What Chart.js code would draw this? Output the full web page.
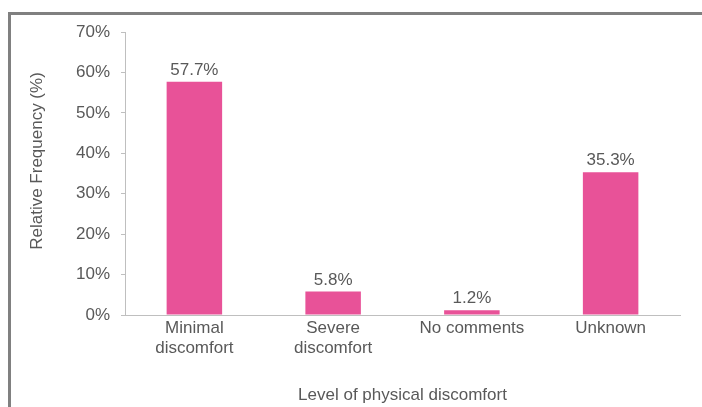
<!DOCTYPE html>
<html>
<head>
<meta charset="utf-8">
<script src="https://cdn.jsdelivr.net/npm/chart.js@4/dist/chart.umd.min.js"></script>
<style>
  html, body { margin: 0; padding: 0; background: #fff; }
  #frame {
    position: absolute; left: 8px; top: 12px; right: 0; bottom: 0;
    border-left: 3px solid #808080; border-top: 3px solid #808080;
  }
  #wrap { position: absolute; left: 0; top: 0; width: 702px; height: 407px; }
</style>
</head>
<body>
<div id="frame"></div>
<div id="wrap"><canvas id="discomfortChart"></canvas></div>
<script>
const categories = [['Minimal', 'discomfort'], ['Severe', 'discomfort'], 'No comments', 'Unknown'];
const frequencies = [57.7, 5.8, 1.2, 35.3];
const yTicks = [0, 10, 20, 30, 40, 50, 60, 70];

const textColor = '#595959';
const axisColor = '#bfbfbf';
const font = { family: "'Liberation Sans', Arial, sans-serif", size: 17, lineHeight: 1.18 };

// value labels above each bar plus the rotated y title
const barLabels = {
  id: 'barLabels',
  afterDatasetsDraw(chart) {
    const ctx = chart.ctx;
    const meta = chart.getDatasetMeta(0);
    ctx.save();
    ctx.fillStyle = textColor;
    ctx.font = `${font.size}px ${font.family}`;
    ctx.textAlign = 'center';
    ctx.textBaseline = 'alphabetic';
    meta.data.forEach((bar, i) => {
      ctx.fillText(frequencies[i].toFixed(1) + '%', bar.x, bar.y - 7);
    });
    ctx.translate(37, 161);
    ctx.rotate(-Math.PI / 2);
    ctx.textBaseline = 'middle';
    ctx.fillText('Relative Frequency (%)', 0, 0);
    ctx.restore();
  }
};

new Chart(document.getElementById('discomfortChart'), {
  type: 'bar',
  data: {
    labels: categories,
    datasets: [{
      data: frequencies,
      backgroundColor: '#e85298',
      categoryPercentage: 1,
      barPercentage: 0.4
    }]
  },
  options: {
    responsive: true,
    maintainAspectRatio: false,
    animation: false,
    layout: { padding: { top: 32, right: 22, bottom: 0, left: 0 } },
    plugins: { legend: { display: false }, tooltip: { enabled: false } },
    scales: {
      x: {
        afterFit(scale) { scale.height = 92; },
        grid: { display: false, drawTicks: false },
        border: { color: axisColor, width: 1 },
        ticks: { color: textColor, font: font, padding: 3, maxRotation: 0, autoSkip: false },
        title: {
          display: true,
          text: 'Level of physical discomfort',
          color: textColor,
          font: font,
          padding: { top: 0, bottom: 2 }
        }
      },
      y: {
        min: 0,
        max: 70,
        afterFit(scale) { scale.width = 125; },
        afterBuildTicks(scale) { scale.ticks = yTicks.map(v => ({ value: v })); },
        grid: { drawOnChartArea: false, drawTicks: true, tickLength: 4, color: axisColor },
        border: { color: axisColor, width: 1 },
        ticks: { color: textColor, font: font, padding: 11, callback: v => v + '%' }
      }
    }
  },
  plugins: [barLabels]
});
</script>
</body>
</html>
